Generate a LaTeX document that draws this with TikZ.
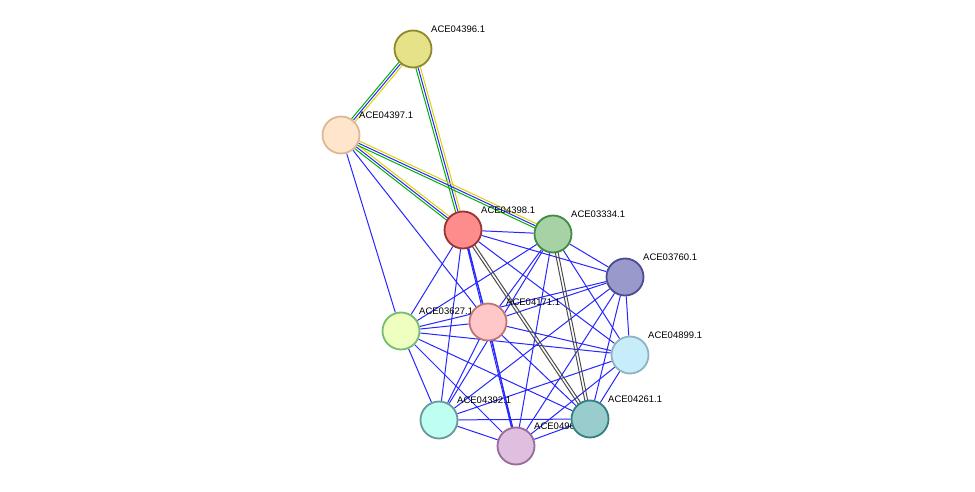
\documentclass[tikz,border=0pt]{standalone}
\usepackage{fontspec}
\setmainfont{Liberation Sans}
\usetikzlibrary{calc, backgrounds}

\begin{document}
\begin{tikzpicture}[
    x=1pt, y=-1pt,
    prot/.style={circle, draw, line width=1.8pt, minimum size=37pt, inner sep=0pt},
    tag/.style={anchor=south west, inner sep=0pt, font=\fontsize{9.5}{11}\selectfont},
    link/.style={blue!85!white, line width=1pt},
    ]
\useasboundingbox (0,0) rectangle (975,492);

% proteins
\node[prot, draw=olive!70!gray, fill=yellow!45!olive!40] (p396) at (413,49) {};
\node[prot, draw=brown!55, fill=orange!20] (p397) at (341,135) {};
\node[prot, draw=red!50!black!80, fill=red!45] (p398) at (463,230) {};
\node[prot, draw=green!40!black!75, fill=green!50!black!35!white] (p334) at (553,234) {};
\node[prot, draw=blue!40!black!70, fill=blue!50!black!40!white] (p760) at (625,277) {};
\node[prot, draw=green!35!gray!80, fill=lime!25] (p627) at (401,331) {};
\node[prot, draw=red!35!gray!80, fill=red!22] (p171) at (488,322) {};
\node[prot, draw=cyan!35!gray!80, fill=cyan!22] (p899) at (630,355) {};
\node[prot, draw=teal!45!gray!80, fill=green!22!cyan!25] (p392) at (439,420) {};
\node[prot, draw=violet!45!gray!80, fill=violet!25] (p962) at (516,446) {};
\node[prot, draw=teal!60!gray, fill=teal!40] (p261) at (590,419) {};

\begin{scope}[on background layer]
% core cluster
\foreach \a/\b in {p398/p334, p398/p760, p398/p627, p398/p171, p398/p899, p398/p392, p398/p962,
    p334/p760, p334/p627, p334/p171, p334/p899, p334/p392, p334/p962,
    p760/p627, p760/p171, p760/p899, p760/p392, p760/p962, p760/p261,
    p627/p171, p627/p899, p627/p392, p627/p962, p627/p261,
    p171/p899, p171/p392, p171/p962, p171/p261,
    p899/p392, p899/p962, p899/p261,
    p392/p962, p392/p261, p962/p261, p397/p627, p397/p171}
  \draw[link] (\a) -- (\b);
\draw[link] ($(p398)!1.3pt!90:(p962)$) -- ($(p962)!1.3pt!-90:(p398)$);
% gray pairs
\foreach \a/\b in {p398/p261, p334/p261}{
  \draw[black!70, line width=1pt] ($(\a)!1.4pt!90:(\b)$) -- ($(\b)!1.4pt!-90:(\a)$);
  \draw[black!70, line width=1pt] ($(\a)!1.4pt!-90:(\b)$) -- ($(\b)!1.4pt!90:(\a)$);
}
% coloured triples
\foreach \a/\b in {p396/p397, p396/p398, p397/p398, p397/p334}{
  \draw[yellow!70!olive, line width=1pt] ($(\a)!2.3pt!90:(\b)$) -- ($(\b)!2.3pt!-90:(\a)$);
  \draw[blue!85!white, line width=1pt] (\a) -- (\b);
  \draw[green!70!black, line width=1pt] ($(\a)!2.3pt!-90:(\b)$) -- ($(\b)!2.3pt!90:(\a)$);
}
% labels
\node[tag] at ($(p396)+(18,-16)$) {ACE04396.1};
\node[tag] at ($(p397)+(18,-16)$) {ACE04397.1};
\node[tag] at ($(p398)+(18,-16)$) {ACE04398.1};
\node[tag] at ($(p334)+(18,-16)$) {ACE03334.1};
\node[tag] at ($(p760)+(18,-16)$) {ACE03760.1};
\node[tag] at ($(p627)+(18,-16)$) {ACE03627.1};
\node[tag] at ($(p171)+(18,-16)$) {ACE04171.1};
\node[tag] at ($(p899)+(18,-16)$) {ACE04899.1};
\node[tag] at ($(p392)+(18,-16)$) {ACE04392.1};
\node[tag] at ($(p962)+(18,-16)$) {ACE04962.1};
\node[tag] at ($(p261)+(18,-16)$) {ACE04261.1};
\end{scope}
\end{tikzpicture}
\end{document}
